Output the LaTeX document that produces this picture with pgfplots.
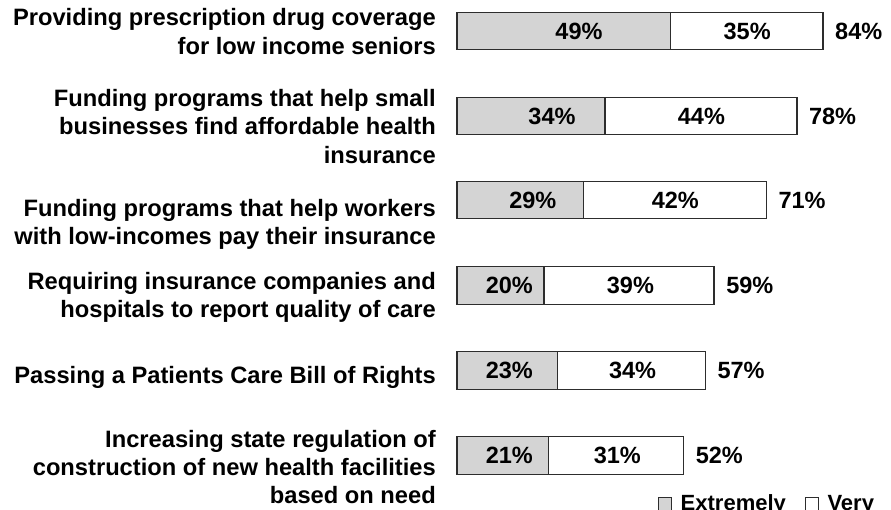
\documentclass[border=0pt]{standalone}
\usepackage{pgfplots}
\pgfplotsset{compat=1.18}
\usepackage{fontspec}
\setmainfont{Liberation Sans}
\definecolor{barGrey}{RGB}{212,212,212}
\definecolor{edgeC}{RGB}{45,45,45}
\newcommand{\catfont}{\bfseries\fontsize{23.7}{28.5}\selectfont}
\newcommand{\valfont}{\bfseries\fontsize{23.5}{27}\selectfont}
\newcommand{\legfont}{\bfseries\fontsize{22}{26}\selectfont}
\tikzset{
  vlab/.style={inner sep=0pt, font=\valfont, anchor=center},
  tlab/.style={inner sep=0pt, font=\valfont, anchor=west, xshift=12pt},
  clab/.style={inner sep=0pt, font=\catfont, anchor=base east},
}
\begin{document}
\begin{tikzpicture}
\useasboundingbox (0pt,0pt) rectangle (891pt,510pt);
\begin{axis}[
  at={(457pt,0pt)}, anchor=south west,
  scale only axis, width=434pt, height=510pt,
  xmin=0, xmax=99.61, ymin=0, ymax=510, y dir=reverse,
  hide axis, clip=false,
  xbar, bar width=37.5, bar shift=0pt,
  legend columns=2, reverse legend,
  legend style={draw=none, fill=none, inner sep=0pt,
    at={(0.463,-0.009)}, anchor=south west,
    font=\legfont, nodes={inner sep=2pt},
    /tikz/every odd column/.append style={column sep=7pt},
    /tikz/every even column/.append style={column sep=17pt}},
  legend image code/.code={\draw[#1, line width=0.6pt] (0pt,-6.5pt) rectangle (13pt,6.5pt);},
]
% total bar (Extremely + Very), drawn first; the white part is "Very"
\addplot[fill=white, draw=edgeC, line width=1.3pt] table {
x y
84 31
78 116
71 200
59 285.5
57 370.5
52 455.5
};
\addlegendentry{Very}
% "Extremely" part, drawn on top from 0
\addplot[fill=barGrey, draw=edgeC, line width=1.3pt] table {
x y
49 31
34 116
29 200
20 285.5
23 370.5
21 455.5
};
\addlegendentry{Extremely}

\node[vlab] at (axis cs:28.0,31) {49\%};
\node[vlab] at (axis cs:66.6,31) {35\%};
\node[vlab] at (axis cs:21.8,116) {34\%};
\node[vlab] at (axis cs:56.1,116) {44\%};
\node[vlab] at (axis cs:17.4,200) {29\%};
\node[vlab] at (axis cs:50.1,200) {42\%};
\node[vlab] at (axis cs:12.0,285.5) {20\%};
\node[vlab] at (axis cs:39.8,285.5) {39\%};
\node[vlab] at (axis cs:12.0,370.5) {23\%};
\node[vlab] at (axis cs:40.3,370.5) {34\%};
\node[vlab] at (axis cs:12.0,455.5) {21\%};
\node[vlab] at (axis cs:36.8,455.5) {31\%};

\node[tlab] at (axis cs:84,31) {84\%};
\node[tlab] at (axis cs:78,116) {78\%};
\node[tlab] at (axis cs:71,200) {71\%};
\node[tlab] at (axis cs:59,285.5) {59\%};
\node[tlab] at (axis cs:57,370.5) {57\%};
\node[tlab] at (axis cs:52,455.5) {52\%};

\node[clab] at (axis cs:-4.82,26) {Providing prescription drug coverage};
\node[clab] at (axis cs:-4.82,55) {for low income seniors};
\node[clab] at (axis cs:-4.82,107) {Funding programs that help small};
\node[clab] at (axis cs:-4.82,135) {businesses find affordable health};
\node[clab] at (axis cs:-4.82,164) {insurance};
\node[clab] at (axis cs:-4.82,217) {Funding programs that help workers};
\node[clab] at (axis cs:-4.82,245) {with low-incomes pay their insurance};
\node[clab] at (axis cs:-4.82,290) {Requiring insurance companies and};
\node[clab] at (axis cs:-4.82,318) {hospitals to report quality of care};
\node[clab] at (axis cs:-4.82,383) {Passing a Patients Care Bill of Rights};
\node[clab] at (axis cs:-4.82,447) {Increasing state regulation of};
\node[clab] at (axis cs:-4.82,475) {construction of new health facilities};
\node[clab] at (axis cs:-4.82,503) {based on need};
\end{axis}
\end{tikzpicture}
\end{document}
